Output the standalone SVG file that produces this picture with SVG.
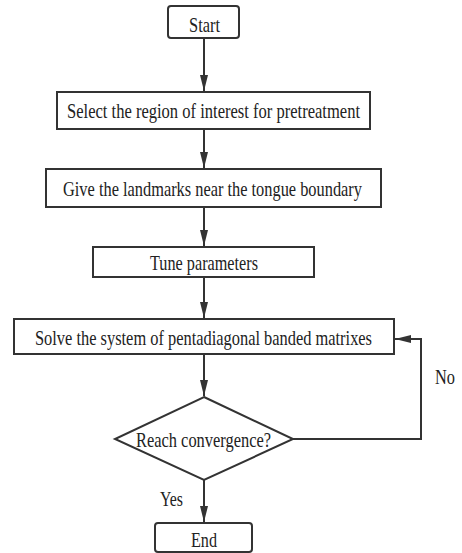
<svg xmlns="http://www.w3.org/2000/svg" width="462" height="553" viewBox="0 0 462 553">
<defs>
<marker id="ah" markerWidth="16" markerHeight="8" refX="16" refY="4" orient="auto" markerUnits="userSpaceOnUse" viewBox="0 0 16 8">
<path d="M0,0 L16,4 L0,8 Z" fill="#333"/>
</marker>
<style>
.box{fill:#fff;stroke:#333;stroke-width:2}
.t{font-family:"Liberation Serif","Times New Roman",serif;font-size:21px;fill:#222}
.c{fill:none;stroke:#333;stroke-width:2;marker-end:url(#ah)}
</style>
</defs>
<rect width="462" height="553" fill="#fff"/>
<g id="connectors">
<line class="c" x1="204" y1="38" x2="204" y2="91"/>
<line class="c" x1="204" y1="129" x2="204" y2="168"/>
<line class="c" x1="204" y1="207" x2="204" y2="246"/>
<line class="c" x1="204" y1="277" x2="204" y2="318"/>
<line class="c" x1="204" y1="354" x2="204" y2="396"/>
<line class="c" x1="204" y1="480" x2="204" y2="522"/>
<polyline class="c" points="293,439 421,439 421,339 395,339"/>
</g>
<g id="start">
<rect class="box" x="168" y="6" width="71" height="32" rx="3"/>
<text class="t" transform="translate(189,32) scale(0.8,1)" textLength="38.75" lengthAdjust="spacingAndGlyphs">Start</text>
</g>
<g id="select">
<rect class="box" x="57" y="92" width="313" height="37"/>
<text class="t" transform="translate(67,118) scale(0.8,1)" textLength="366.25" lengthAdjust="spacingAndGlyphs">Select the region of interest for pretreatment</text>
</g>
<g id="give">
<rect class="box" x="46" y="169" width="335" height="38"/>
<text class="t" transform="translate(63,196) scale(0.8,1)" textLength="373.75" lengthAdjust="spacingAndGlyphs">Give the landmarks near the tongue boundary</text>
</g>
<g id="tune">
<rect class="box" x="93" y="247" width="221" height="30"/>
<text class="t" transform="translate(150,270) scale(0.8,1)" textLength="135" lengthAdjust="spacingAndGlyphs">Tune parameters</text>
</g>
<g id="solve">
<rect class="box" x="14" y="319" width="380" height="35"/>
<text class="t" transform="translate(35,345) scale(0.8,1)" textLength="421.25" lengthAdjust="spacingAndGlyphs">Solve the system of pentadiagonal banded matrixes</text>
</g>
<g id="decision">
<polygon class="box" points="204,397 293,439 204,480 115,439"/>
<text class="t" transform="translate(136,447) scale(0.8,1)" textLength="168.75" lengthAdjust="spacingAndGlyphs">Reach convergence?</text>
</g>
<g id="end">
<rect class="box" x="155" y="523" width="97" height="29" rx="3"/>
<text class="t" transform="translate(191,547) scale(0.8,1)" textLength="32.5" lengthAdjust="spacingAndGlyphs">End</text>
</g>
<g id="labels">
<text class="t" transform="translate(435,384) scale(0.8,1)" textLength="25" lengthAdjust="spacingAndGlyphs">No</text>
<text class="t" transform="translate(160,506) scale(0.8,1)" textLength="28.75" lengthAdjust="spacingAndGlyphs">Yes</text>
</g>
</svg>
